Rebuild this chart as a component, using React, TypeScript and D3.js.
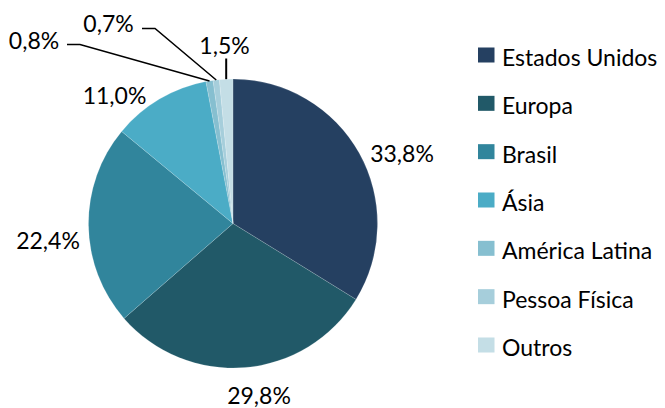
import React from "react";
import * as d3 from "d3";

const categories = ["Estados Unidos", "Europa", "Brasil", "Ásia", "América Latina", "Pessoa Física", "Outros"];
const values = [33.8, 29.8, 22.4, 11.0, 0.8, 0.7, 1.5];
const labels = ["33,8%", "29,8%", "22,4%", "11,0%", "0,8%", "0,7%", "1,5%"];
const colors = ["#254061", "#215968", "#31859C", "#4BACC6", "#86BFD0", "#A6CEDB", "#C4DEE6"];

// layout: label anchor (center x, baseline y) relative to pie center; elbow for leader lines
const labelLayout = [
  { dx: 169, dy: -62, leader: null },
  { dx: 26, dy: 180, leader: null },
  { dx: -185, dy: 25, leader: null },
  { dx: -118.5, dy: -120, leader: null },
  { dx: -199, dy: -175, leader: { x1: -166, x2: -153, y: -179 } },
  { dx: -124.5, dy: -191.5, leader: { x1: -91, x2: -78, y: -195 } },
  { dx: -8.5, dy: -170, leader: { vertTop: -165 } },
];

const W = 665;
const H = 408;
const cx = 233;
const cy = 223.5;
const R = 144.5;
const FONT = "Lato, 'Open Sans', sans-serif";

export default function App() {
  const pie = d3.pie<number>().sort(null).value((d) => d)(values);
  const arc = d3.arc<d3.PieArcDatum<number>>().innerRadius(0).outerRadius(R);

  const legendY = d3.scalePoint<string>().domain(categories).range([55, 345]);

  return (
    <svg width={W} height={H} style={{ position: "absolute", left: 0, top: 0, background: "#fff" }}>
      <g transform={`translate(${cx},${cy})`}>
        {pie.map((p, i) => (
          <path key={i} d={arc(p) || ""} fill={colors[i]} stroke="#ffffff" strokeOpacity={0.5} strokeWidth={0.3} />
        ))}
        {pie.map((p, i) => {
          const L = labelLayout[i];
          const mid = (p.startAngle + p.endAngle) / 2;
          const ax = R * Math.sin(mid);
          const ay = -R * Math.cos(mid);
          let line = null;
          if (L.leader) {
            if ((L.leader as any).vertTop !== undefined) {
              line = (
                <line x1={ax} y1={(L.leader as any).vertTop} x2={ax} y2={ay} stroke="#000" strokeWidth={2} />
              );
            } else {
              const ld = L.leader as any;
              line = (
                <polyline
                  points={`${ld.x1},${ld.y} ${ld.x2},${ld.y} ${ax},${ay}`}
                  fill="none"
                  stroke="#000"
                  strokeWidth={1.5}
                />
              );
            }
          }
          return (
            <g key={"l" + i}>
              {line}
              <text x={L.dx} y={L.dy} textAnchor="middle" fontFamily={FONT} fontSize={23} fill="#000">
                {labels[i]}
              </text>
            </g>
          );
        })}
      </g>
      <g>
        {categories.map((c, i) => {
          const y = legendY(c) as number;
          return (
            <g key={c}>
              <rect x={478} y={y - 7.5} width={16.5} height={15} fill={colors[i]} />
              <text x={502} y={y + 11} fontFamily={FONT} fontSize={23} fill="#000">
                {c}
              </text>
            </g>
          );
        })}
      </g>
    </svg>
  );
}
